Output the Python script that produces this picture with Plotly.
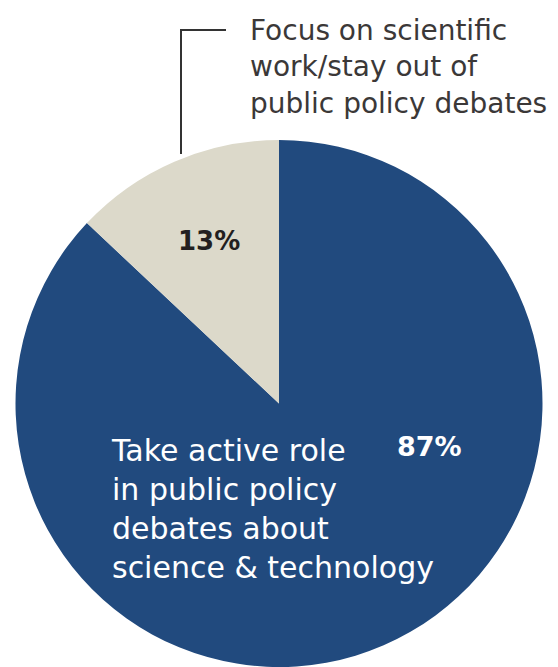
import plotly.graph_objects as go

categories = ["Take active role<br>in public policy<br>debates about<br>science & technology",
              "Focus on scientific<br>work/stay out of<br>public policy debates"]
values = [87, 13]
pct_labels = ["87%", "13%"]
colors = ["#214a7e", "#dcd9ca"]

W, H = 558, 667
fig = go.Figure()
fig.add_trace(go.Pie(
    values=values, labels=categories, sort=False, direction="clockwise",
    rotation=0, marker=dict(colors=colors, line=dict(width=0)),
    textinfo="none", hoverinfo="label+percent", showlegend=False,
    domain=dict(x=[(279-265)/W, (279+265)/W], y=[0, 527/H]),
))

font_family = "DejaVu Sans, sans-serif"
# percentage labels
fig.add_annotation(x=209/W, y=1-241/H, xref="paper", yref="paper", text="<b>%s</b>" % pct_labels[1],
                   showarrow=False, xanchor="center", yanchor="middle",
                   font=dict(family=font_family, size=26, color="#231f20"))
fig.add_annotation(x=429/W, y=1-446/H, xref="paper", yref="paper", text="<b>%s</b>" % pct_labels[0],
                   showarrow=False, xanchor="center", yanchor="middle",
                   font=dict(family=font_family, size=27, color="#ffffff"))
# category labels
fig.add_annotation(x=248/W, y=1-12/H, xref="paper", yref="paper", text=categories[1],
                   showarrow=False, xanchor="left", yanchor="top", align="left",
                   font=dict(family=font_family, size=28, color="#3b3838"))
fig.add_annotation(x=109/W, y=1-431/H, xref="paper", yref="paper", text=categories[0],
                   showarrow=False, xanchor="left", yanchor="top", align="left",
                   font=dict(family=font_family, size=30, color="#ffffff"))
# leader line
fig.add_shape(type="path", xref="paper", yref="paper",
              path="M %f %f L %f %f L %f %f" % (181/W, 1-154/H, 181/W, 1-30/H, 226/W, 1-30/H),
              line=dict(color="#333333", width=2))

fig.update_layout(width=W, height=H, margin=dict(l=0, r=0, t=0, b=0),
                  paper_bgcolor="white", plot_bgcolor="white")
fig.write_html("out.html", config={"displayModeBar": False},
               post_script="document.body.style.margin='0';")
